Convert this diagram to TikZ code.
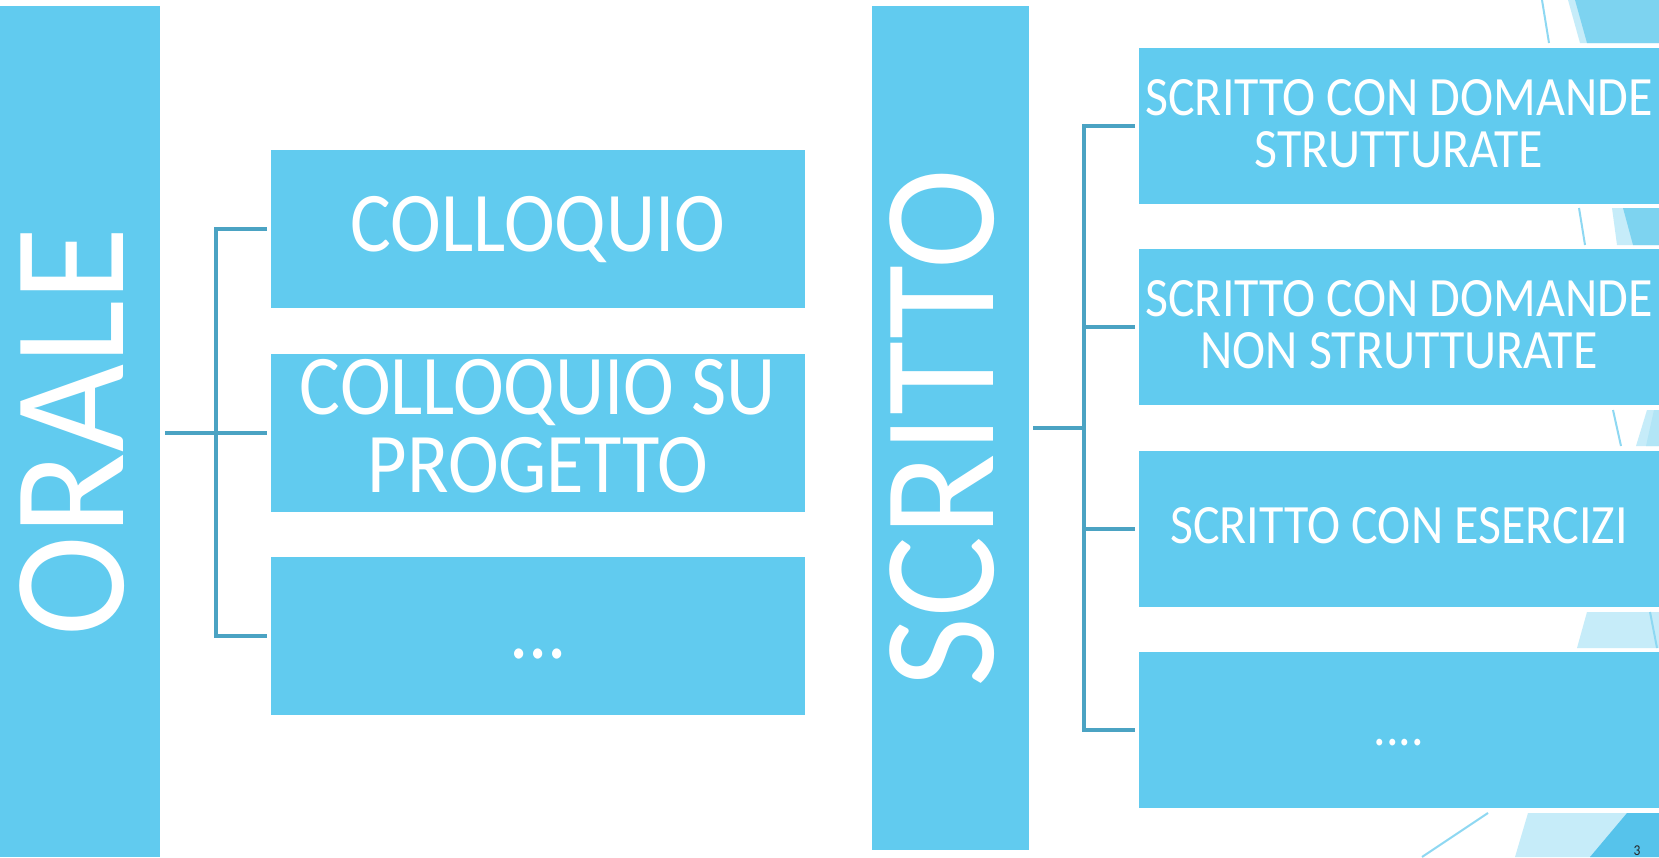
\documentclass[tikz,border=0pt]{standalone}
\usepackage{fontspec}
\setmainfont[FakeStretch=0.9]{Carlito}
\newfontfamily\bigsans[FakeStretch=0.95]{Carlito}
\usetikzlibrary{calc}
\definecolor{boxblue}{RGB}{97,203,239}
\definecolor{connblue}{RGB}{75,163,195}
\definecolor{declight}{RGB}{198,236,249}
\definecolor{decmid}{RGB}{125,211,240}
\definecolor{decdark}{RGB}{86,195,235}
\definecolor{decline}{RGB}{142,216,242}
\definecolor{decsoft}{RGB}{178,229,246}
\definecolor{pagenum}{RGB}{38,38,38}
\begin{document}
\begin{tikzpicture}[x=1pt,y=-1pt,
  box/.style={fill=boxblue, text=white, inner sep=0pt, outer sep=0pt},
  lbox/.style={box, minimum width=534pt, minimum height=158pt, font=\fontsize{85}{75}\selectfont, text height=54pt, text depth=10pt},
  rbox/.style={box, minimum width=520pt, minimum height=156pt, font=\fontsize{55.5}{52}\selectfont, text height=35pt, text depth=5pt},
  bigbox/.style={box, rotate=90, font=\bigsans\fontsize{160}{160}\selectfont, text height=101pt, text depth=15pt},
  conn/.style={draw=connblue, line width=4pt},
  decl/.style={draw=decline, line width=2pt},
]
\useasboundingbox (0,0) rectangle (1659,857);
\clip (0,0) rectangle (1659,857);
\fill[white] (0,0) rectangle (1659,857);

% decorative facets
\fill[declight] (1568,0) -- (1659,0) -- (1659,43) -- (1580,43) -- cycle;
\fill[decmid] (1575,0) -- (1659,0) -- (1659,43) -- (1587,43) -- cycle;
\draw[decl] (1542,0) -- (1549,43);

\fill[declight] (1612,208) -- (1659,208) -- (1659,245) -- (1617,245) -- cycle;
\fill[decmid] (1623,208) -- (1659,208) -- (1659,245) -- (1633,245) -- cycle;
\draw[decl] (1579,208) -- (1585,245);

\fill[declight] (1647,410) -- (1659,410) -- (1659,446) -- (1636,446) -- cycle;
\fill[decsoft] (1654,410) -- (1659,410) -- (1659,446) -- (1646,446) -- cycle;
\draw[decl] (1613,410) -- (1621,446);

\fill[declight] (1587,612) -- (1659,612) -- (1659,648) -- (1577,648) -- cycle;
\draw[decl] (1650,612) -- (1657,648);

\fill[declight] (1528,813) -- (1659,813) -- (1659,857) -- (1515,857) -- cycle;
\fill[decdark] (1627,813) -- (1659,813) -- (1659,857) -- (1590,857) -- cycle;
\draw[decl] (1488,813) -- (1422,857);
\node[font=\fontsize{15}{18}\selectfont, text=pagenum, anchor=base, inner sep=0pt] (pnum) at (1637,855) {3};

% main boxes
\node[bigbox, minimum width=851pt, minimum height=160pt] (orale) at (80,431.5) {ORALE};
\node[bigbox, minimum width=844pt, minimum height=157pt] (scritto) at (950.5,428) {SCRITTO};

\node[lbox] (c1) at (538,229) {COLLOQUIO};
\node[lbox, text height=129pt] (c2) at (538,433) {\begin{tabular}[b]{@{}c@{}}COLLOQUIO SU\\PROGETTO\end{tabular}};
\node[lbox] (c3) at (538,636) {...};

\node[rbox, text height=87pt] (r1) at (1399,126) {\begin{tabular}[b]{@{}c@{}}SCRITTO CON DOMANDE\\STRUTTURATE\end{tabular}};
\node[rbox, text height=87pt] (r2) at (1399,327) {\begin{tabular}[b]{@{}c@{}}SCRITTO CON DOMANDE\\NON STRUTTURATE\end{tabular}};
\node[rbox] (r3) at (1399,528.5) {SCRITTO CON ESERCIZI};
\node[rbox] (r4) at (1399,730) {....};

% connectors (left)
\coordinate (lj) at ($(orale.south)!0.5!(c2.west)$);
\draw[conn] ($(orale.south |- c2.west)+(5,0)$) -- ($(c2.west)+(-4,0)$);
\draw[conn] ($(c1.west)+(-4,0)$) -| (lj |- c3.west) -- ($(c3.west)+(-4,0)$);

% connectors (right)
\coordinate (rj) at ($(scritto.south)!0.5!(r1.west)$);
\draw[conn] ($(scritto.south)+(4,0)$) -- (rj |- scritto.south);
\draw[conn] ($(r1.west)+(-4,0)$) -| (rj |- r4.west) -- ($(r4.west)+(-4,0)$);
\draw[conn] (rj |- r2.west) -- ($(r2.west)+(-4,0)$);
\draw[conn] (rj |- r3.west) -- ($(r3.west)+(-4,0)$);
\end{tikzpicture}
\end{document}
